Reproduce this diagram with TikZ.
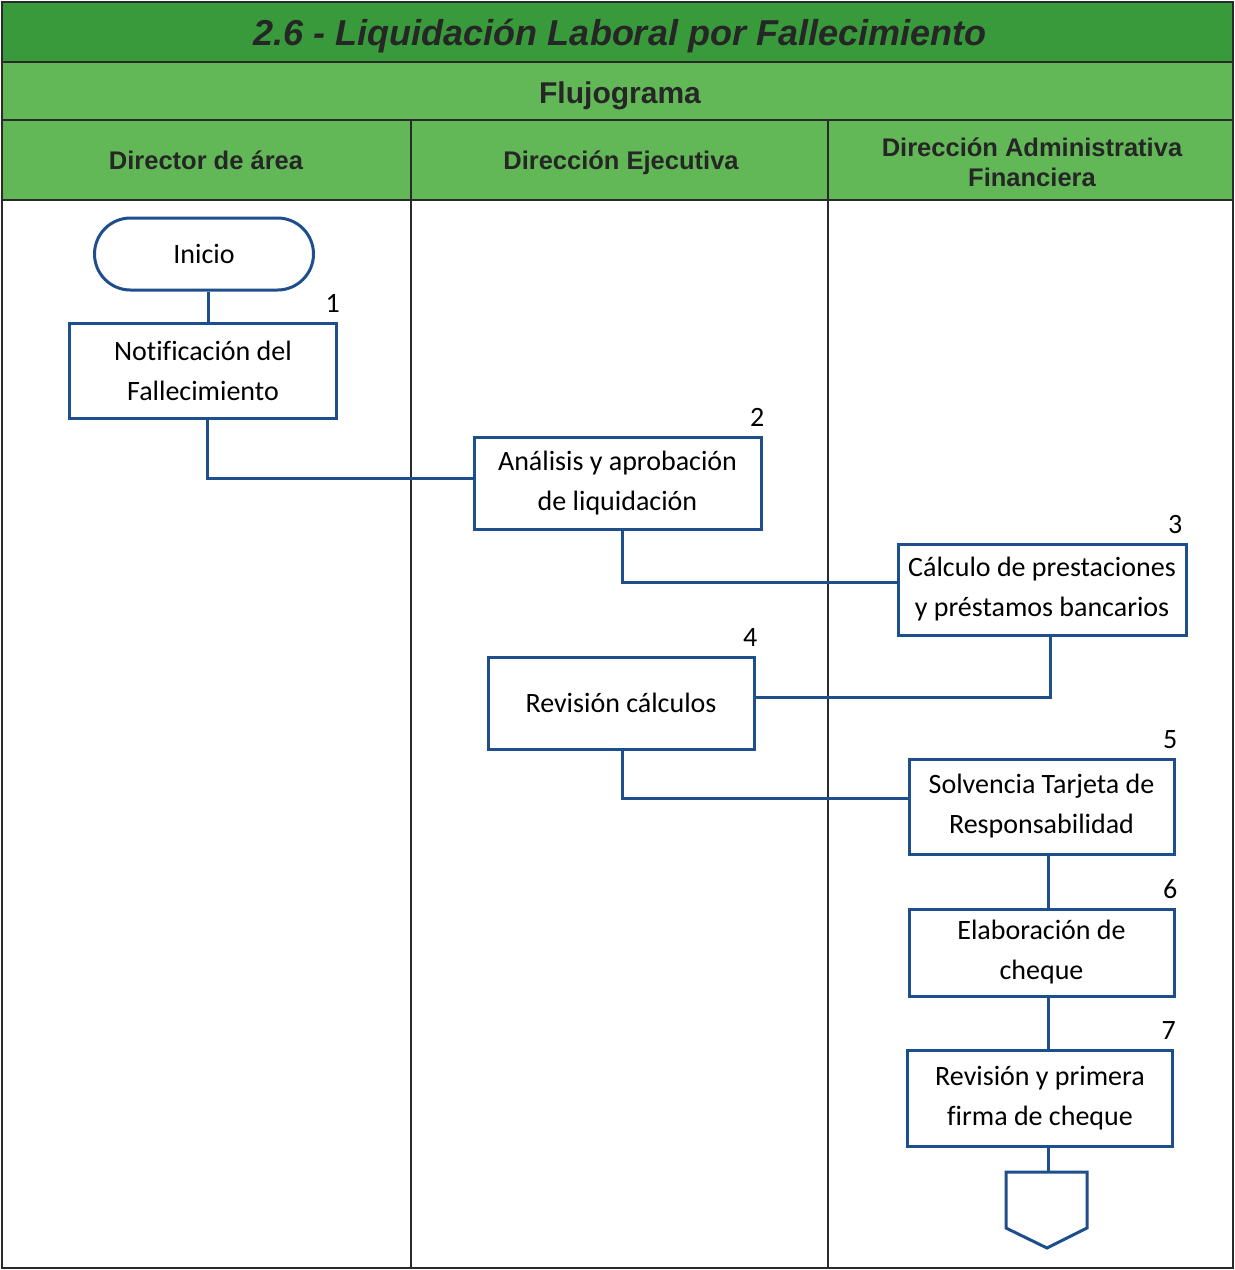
\documentclass[tikz,border=0pt]{standalone}
\usepackage{fontspec}
\setmainfont{Carlito}[Ligatures=NoCommon]
\newfontfamily\headfont{Liberation Sans}
\usetikzlibrary{calc}

\definecolor{titlegreen}{HTML}{389A3A}
\definecolor{bandgreen}{HTML}{62B857}
\definecolor{flowblue}{HTML}{1F4E8C}
\definecolor{rulegray}{HTML}{2A2A2A}

\tikzset{
  band/.style={fill=#1, draw=none},
  sep/.style={draw=rulegray, line width=1.6pt},
  lane/.style={draw=rulegray, line width=1.2pt},
  titletext/.style={font=\headfont\bfseries\itshape\fontsize{36}{40}\selectfont, text=black!85, anchor=base},
  subtext/.style={font=\headfont\bfseries\fontsize{30}{34}\selectfont, text=black!85, anchor=base},
  lanetext/.style={font=\headfont\bfseries\fontsize{25.5}{30}\selectfont, text=black!85, align=center, anchor=base},
  proc/.style={draw=flowblue, line width=3pt, fill=white, inner sep=0pt, align=center,
    font=\fontsize{28}{40}\selectfont},
  term/.style={proc, rounded corners=36pt},
  num/.style={font=\fontsize{28}{30}\selectfont, inner sep=0pt, anchor=south east},
  flow/.style={draw=flowblue, line width=3pt},
}

\begin{document}
\begin{tikzpicture}[x=1pt,y=-1pt]
\useasboundingbox (0,0) rectangle (1235,1270);
\fill[white] (0,0) rectangle (1235,1270);

% header bands
\fill[band=titlegreen] (2,2) rectangle (1233,62);
\fill[band=bandgreen] (2,62) rectangle (1233,200);
\draw[sep] (2,62) -- (1233,62);
\draw[sep] (2,120) -- (1233,120);
\draw[sep] (2,200) -- (1233,200);

\node[titletext] (title) at (620,45) {2.6 - Liquidación Laboral por Fallecimiento};
\node[subtext] (sub) at (620,103) {Flujograma};
\node[lanetext] (laneA) at (206,169) {Director de área};
\node[lanetext] (laneB) at (621,169) {Dirección Ejecutiva};
\node[lanetext] (laneC) at (1032,186) {Dirección Administrativa\\Financiera};

% lane dividers and frame
\draw[lane] (411,120) -- (411,1268);
\draw[lane] (828,120) -- (828,1268);
\draw[draw=rulegray, line width=1.2pt] (2,2) rectangle (1233,1268);

% process steps
\node[term, minimum width=219pt, minimum height=72pt] (ini) at (204,254) {Inicio};
\node[proc, minimum width=267pt, minimum height=95pt] (b1) at (203,370.5) {Notificación del\\Fallecimiento};
\node[proc, minimum width=287pt, minimum height=92pt] (b2) at (617.5,483) {Análisis y aprobación\\de liquidación};
\node[proc, minimum width=288pt, minimum height=91pt] (b3) at (1042,589.5) {Cálculo de prestaciones\\y préstamos bancarios};
\node[proc, minimum width=266pt, minimum height=92pt] (b4) at (621,703) {Revisión cálculos};
\node[proc, minimum width=265pt, minimum height=95pt] (b5) at (1041.5,806.5) {Solvencia Tarjeta de\\Responsabilidad};
\node[proc, minimum width=265pt, minimum height=87pt] (b6) at (1041.5,952.5) {Elaboración de\\cheque};
\node[proc, minimum width=265pt, minimum height=96pt] (b7) at (1040,1098) {Revisión y primera\\firma de cheque};

% step numbers
\node[num] (n1) at ([yshift=9pt,xshift=2pt]b1.north east) {1};
\node[num] (n2) at ([yshift=9pt,xshift=2pt]b2.north east) {2};
\node[num] (n3) at ([yshift=9pt,xshift=-5pt]b3.north east) {3};
\node[num] (n4) at ([yshift=9pt,xshift=2pt]b4.north east) {4};
\node[num] (n5) at ([yshift=9pt,xshift=2pt]b5.north east) {5};
\node[num] (n6) at ([yshift=9pt,xshift=2pt]b6.north east) {6};
\node[num] (n7) at ([yshift=9pt,xshift=2pt]b7.north east) {7};

% off-page connector
\coordinate (off) at (1048,1172);
\draw[flow, fill=white, line join=miter]
  ($(off)+(-42,0)$) -- ($(off)+(39,0)$) -- ($(off)+(39,56)$) -- ($(off)+(-1,76)$)
  -- ($(off)+(-42,56)$) -- cycle;

% connectors
\draw[flow] ([xshift=4pt]ini.south) -- ([xshift=4pt]ini.south |- b1.north);
\draw[flow] ([xshift=4pt]b1.south) |- ([yshift=5pt]b2.west);
\draw[flow] ([xshift=5pt]b2.south) |- ([yshift=7.5pt]b3.west);
\draw[flow] ([xshift=8pt]b3.south) |- ([yshift=6pt]b4.east);
\draw[flow] ([xshift=1pt]b4.south) |- ([yshift=8.5pt]b5.west);
\draw[flow] (b5.south -| off) -- (b6.north -| off);
\draw[flow] (b6.south -| off) -- (b7.north -| off);
\draw[flow] (b7.south -| off) -- (off);
\end{tikzpicture}
\end{document}
